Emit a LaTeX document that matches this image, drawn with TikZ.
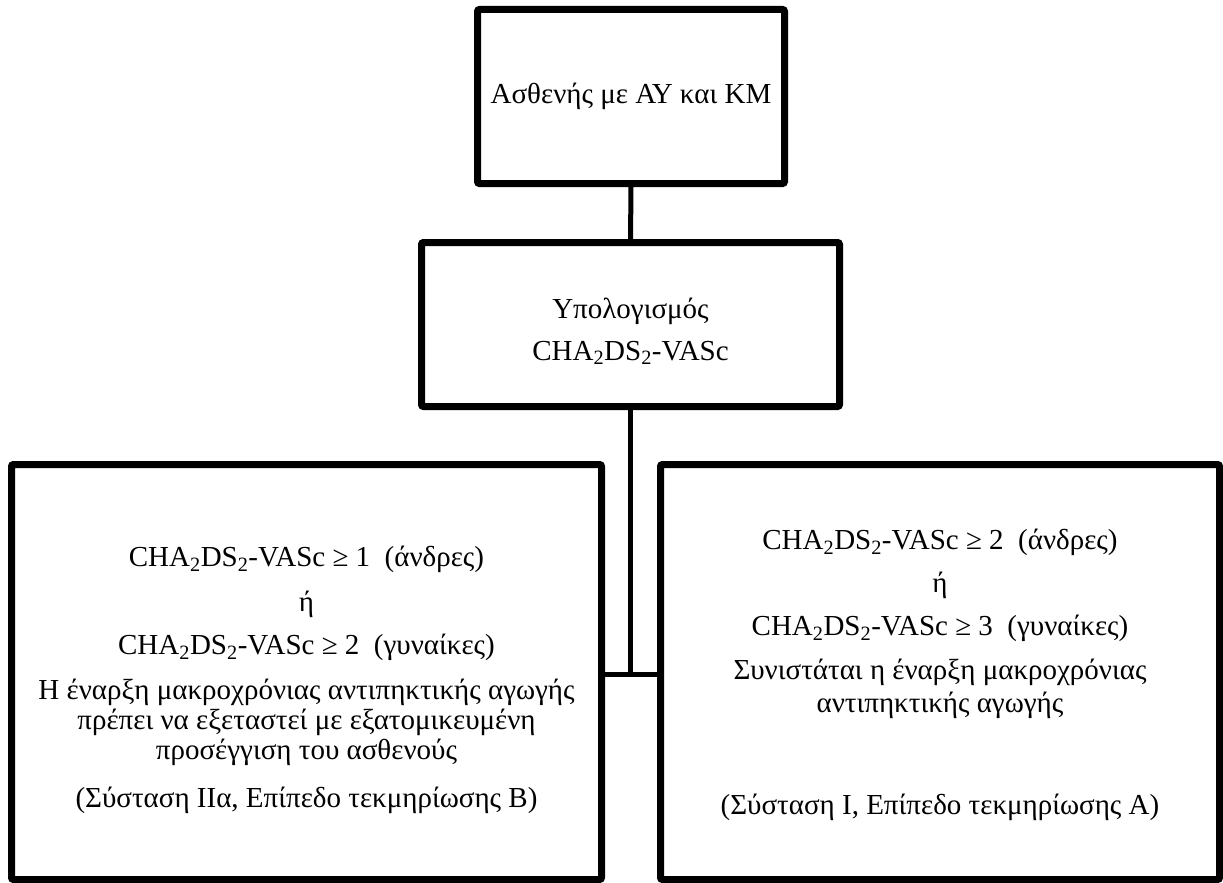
\documentclass[tikz,border=0pt]{standalone}
\usepackage{fontspec}
\setmainfont{Liberation Serif}
\usetikzlibrary{shadows}
\tikzset{
  kouti/.style={draw, line width=7pt, rounded corners=2pt, fill=white, inner sep=0pt, align=center,
    drop shadow={shadow xshift=2pt, shadow yshift=-2pt, opacity=0.25, fill=black}},
  grammi/.style={line width=5pt}
}
\newcommand{\chads}{CHA\textsubscript{2}DS\textsubscript{2}-VASc}
\newcommand{\panw}[1]{\rule{0pt}{#1}}
\begin{document}
\begin{tikzpicture}[x=1pt, y=-1pt, font=\fontsize{29}{30}\selectfont]
\useasboundingbox (0,0) rectangle (1223,883);
\node[kouti, minimum width=307pt, minimum height=174pt] (asthenis) at (631,96.5) {Ασθενής με ΑΥ και ΚΜ};
\node[kouti, minimum width=418pt, minimum height=164pt] (ypologismos) at (630.5,324.5) {\panw{34pt}Υπολογισμός\\[12pt] \chads};
\node[kouti, minimum width=590pt, minimum height=415pt] (aristero) at (306.5,672)
  {\panw{36pt}\chads{} ≥ 1~~(άνδρες)\\[15pt] ή\\[13pt] \chads{} ≥ 2~~(γυναίκες)\\[15pt]
   Η έναρξη μακροχρόνιας αντιπηκτικής αγωγής\\ πρέπει να εξεταστεί με εξατομικευμένη\\ προσέγγιση του ασθενούς\\[18pt]
   (Σύσταση ΙΙα, Επίπεδο τεκμηρίωσης Β)};
\node[kouti, minimum width=559pt, minimum height=415pt] (dexi) at (940,672)
  {\panw{26pt}\chads{} ≥ 2~~(άνδρες)\\[13pt] ή\\[13pt] \chads{} ≥ 3~~(γυναίκες)\\[14pt]
   Συνιστάται η έναρξη μακροχρόνιας\\[3pt] αντιπηκτικής αγωγής\\[72pt]
   (Σύσταση Ι, Επίπεδο τεκμηρίωσης Α)};
\coordinate (kombos) at (630.5,674);
\draw[grammi] (asthenis) -- (ypologismos);
\draw[grammi] (ypologismos) -- (kombos);
\draw[grammi] (aristero.east |- kombos) -- (dexi.west |- kombos);
\end{tikzpicture}
\end{document}
